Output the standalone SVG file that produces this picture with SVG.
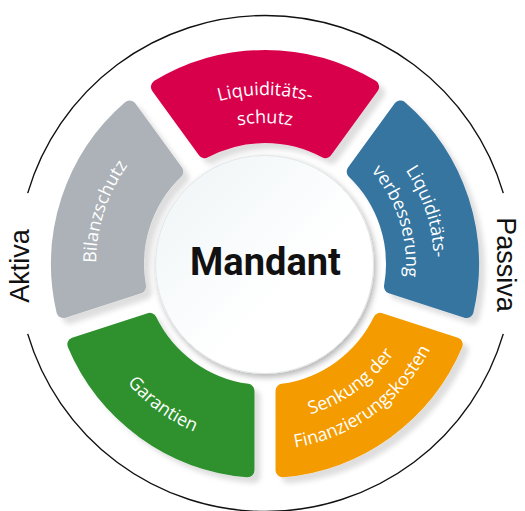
<svg xmlns="http://www.w3.org/2000/svg" xmlns:xlink="http://www.w3.org/1999/xlink" width="525" height="511" viewBox="0 0 525 511">
  <style>
    .seg { stroke-width: 14; stroke-linejoin: round; }
    .lbl { fill: #ffffff; font-family: "Open Sans", "DejaVu Sans", sans-serif; font-size: 18px; }
    .side { fill: #111111; font-family: "Liberation Sans", Arial, sans-serif; font-size: 27px; }
    .ring { fill: none; stroke: #111111; stroke-width: 1.4; }
  </style>
  <defs>
    <filter id="sh" x="-20%" y="-20%" width="150%" height="150%">
      <feDropShadow dx="6" dy="6" stdDeviation="2.5" flood-color="#000000" flood-opacity="0.13"/>
    </filter>
    <filter id="csh" x="-20%" y="-20%" width="150%" height="150%">
      <feDropShadow dx="2" dy="3" stdDeviation="3" flood-color="#000000" flood-opacity="0.3"/>
    </filter>
    <linearGradient id="cg" x1="0" y1="0" x2="1" y2="1">
      <stop offset="0" stop-color="#eef4f6"/>
      <stop offset="0.6" stop-color="#ffffff"/>
      <stop offset="1" stop-color="#ffffff"/>
    </linearGradient>
    <path id="segShape" d="M 157.94 86.83 A 207 207 0 0 1 372.06 86.83 L 325.36 151.13 A 128 128 0 0 0 204.64 151.13 Z"/>
    <path id="top169" d="M 106.19 206.20 A 169 169 0 0 1 423.81 206.20"/>
    <path id="top141" d="M 132.50 215.78 A 141 141 0 0 1 397.50 215.78"/>
    <path id="bot182" d="M 93.97 326.24 A 182 182 0 0 0 436.03 326.24"/>
    <path id="bot157" d="M 117.47 317.69 A 157 157 0 0 0 412.53 317.69"/>
    <path id="bot186" d="M 90.22 327.61 A 186 186 0 0 0 439.78 327.61"/>
  </defs>

  <rect width="525" height="511" fill="#ffffff"/>

  <g id="ring">
    <path class="ring" d="M 27.7 193.1 A 248 248 0 0 1 503.3 193.1"/>
    <path class="ring" d="M 503.3 333.9 A 248 248 0 0 1 27.7 333.9"/>
  </g>

  <g id="connectors"/>

  <g id="aktiva">
    <text class="side" transform="translate(29 266) rotate(-90)" text-anchor="middle">Aktiva</text>
  </g>
  <g id="passiva">
    <text class="side" transform="translate(497 264.5) rotate(90)" text-anchor="middle">Passiva</text>
  </g>

  <g id="liquiditaetsschutz">
    <g filter="url(#sh)">
      <use xlink:href="#segShape" class="seg" fill="#d9004b" stroke="#d9004b"/>
    </g>
    <text class="lbl" text-anchor="middle"><textPath xlink:href="#top169" startOffset="50%">Liquiditäts-</textPath></text>
    <text class="lbl" text-anchor="middle"><textPath xlink:href="#top141" startOffset="50%">schutz</textPath></text>
  </g>

  <g id="liquiditaetsverbesserung">
    <g filter="url(#sh)">
      <use xlink:href="#segShape" class="seg" fill="#3574a0" stroke="#3574a0" transform="rotate(72 265 264)"/>
    </g>
    <g transform="rotate(72 265 264)">
      <text class="lbl" text-anchor="middle"><textPath xlink:href="#top169" startOffset="50%">Liquiditäts-</textPath></text>
      <text class="lbl" text-anchor="middle"><textPath xlink:href="#top141" startOffset="50%">verbesserung</textPath></text>
    </g>
  </g>

  <g id="finanzierungskosten">
    <g filter="url(#sh)">
      <use xlink:href="#segShape" class="seg" fill="#f49b00" stroke="#f49b00" transform="rotate(144 265 264)"/>
    </g>
    <g transform="rotate(-36 265 264)">
      <text class="lbl" text-anchor="middle"><textPath xlink:href="#bot157" startOffset="50%">Senkung der</textPath></text>
      <text class="lbl" text-anchor="middle"><textPath xlink:href="#bot186" startOffset="50%">Finanzierungskosten</textPath></text>
    </g>
  </g>

  <g id="garantien">
    <g filter="url(#sh)">
      <use xlink:href="#segShape" class="seg" fill="#2f912f" stroke="#2f912f" transform="rotate(216 265 264)"/>
    </g>
    <g transform="rotate(36 265 264)">
      <text class="lbl" text-anchor="middle"><textPath xlink:href="#bot182" startOffset="50%">Garantien</textPath></text>
    </g>
  </g>

  <g id="bilanzschutz">
    <g filter="url(#sh)">
      <use xlink:href="#segShape" class="seg" fill="#acb2b7" stroke="#acb2b7" transform="rotate(288 265 264)"/>
    </g>
    <g transform="rotate(-72 265 264)">
      <text class="lbl" text-anchor="middle"><textPath xlink:href="#top169" startOffset="50%">Bilanzschutz</textPath></text>
    </g>
  </g>

  <g id="mandant">
    <circle cx="264.5" cy="264.5" r="109" fill="url(#cg)" stroke="#e2e6e8" stroke-width="1" filter="url(#csh)"/>
    <text x="265.5" y="275" text-anchor="middle" font-family="Roboto, 'Liberation Sans', sans-serif" font-weight="bold" font-size="38" fill="#111111">Mandant</text>
  </g>
</svg>
